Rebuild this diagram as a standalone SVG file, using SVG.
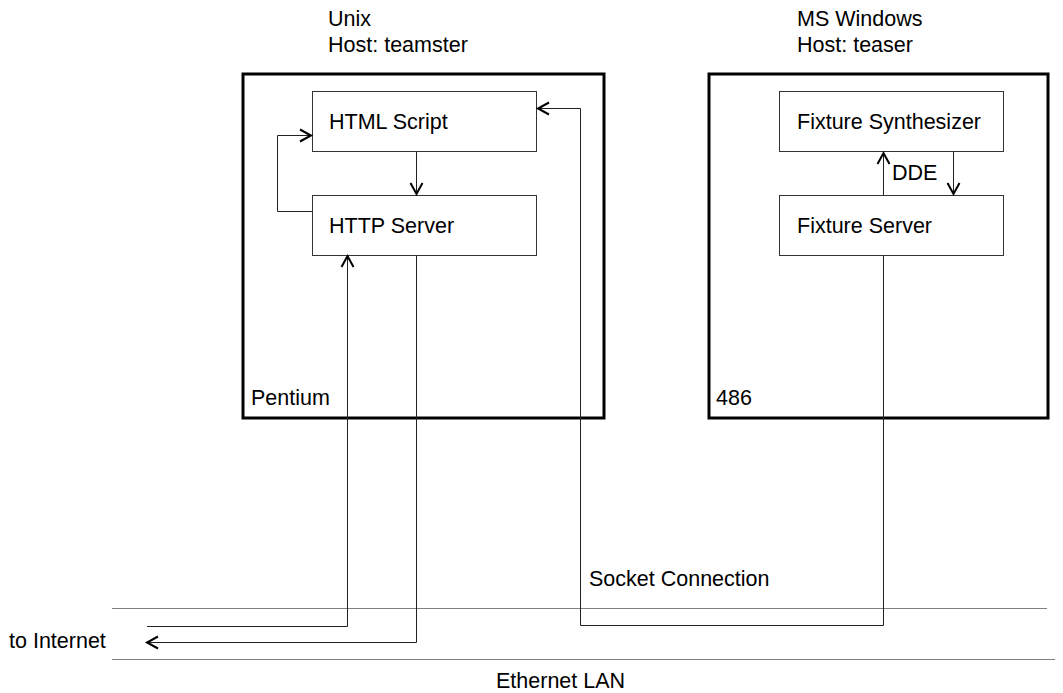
<svg xmlns="http://www.w3.org/2000/svg" width="1063" height="693" viewBox="0 0 1063 693">
  <style>
    text { font-family: "Liberation Sans", Arial, sans-serif; font-size: 21.5px; fill: #000; }
    .host { fill: none; stroke: #000; stroke-width: 3; }
    .proc { fill: #fff; stroke: #333; stroke-width: 1; }
    .wire { fill: none; stroke: #222; stroke-width: 1; }
    .lan { fill: none; stroke: #808080; stroke-width: 1; }
  </style>
  <defs>
    <marker id="arrow" markerWidth="16" markerHeight="16" refX="12" refY="7.5" orient="auto" markerUnits="userSpaceOnUse">
      <path d="M1,1.5 L12,7.5 L1,13.5" fill="none" stroke="#000" stroke-width="2"/>
    </marker>
  </defs>
  <rect width="1063" height="693" fill="#fff"/>

  <!-- Ethernet LAN -->
  <g id="lan">
    <line class="lan" x1="112" y1="608.5" x2="1047" y2="608.5"/>
    <line class="lan" x1="112" y1="659.5" x2="1055" y2="659.5"/>
    <text x="496" y="688">Ethernet LAN</text>
    <text x="9" y="648">to Internet</text>
  </g>

  <!-- Unix host -->
  <g id="host-teamster">
    <text x="328" y="26">Unix</text>
    <text x="328" y="52">Host: teamster</text>
    <rect class="host" x="243" y="74" width="361" height="344"/>
    <text x="251" y="405">Pentium</text>
  </g>
  <g id="html-script">
    <rect class="proc" x="312.5" y="91.5" width="224" height="60"/>
    <text x="329" y="129">HTML Script</text>
  </g>
  <g id="http-server">
    <rect class="proc" x="312.5" y="195.5" width="224" height="60"/>
    <text x="329" y="233">HTTP Server</text>
  </g>

  <!-- MS Windows host -->
  <g id="host-teaser">
    <text x="797" y="26">MS Windows</text>
    <text x="797" y="52">Host: teaser</text>
    <rect class="host" x="709" y="74" width="339" height="344"/>
    <text x="716" y="405">486</text>
  </g>
  <g id="fixture-synthesizer">
    <rect class="proc" x="779.5" y="91.5" width="224" height="60"/>
    <text x="797" y="129">Fixture Synthesizer</text>
  </g>
  <g id="fixture-server">
    <rect class="proc" x="779.5" y="195.5" width="224" height="60"/>
    <text x="797" y="233">Fixture Server</text>
  </g>

  <!-- Connectors -->
  <g id="connectors">
    <!-- HTML Script to HTTP Server -->
    <path class="wire" d="M416.5,152 V194" marker-end="url(#arrow)"/>
    <!-- HTTP Server loops back to HTML Script -->
    <path class="wire" d="M312,211.5 H277.5 V135.5 H311" marker-end="url(#arrow)"/>
    <!-- Internet into HTTP Server -->
    <path class="wire" d="M147,626.5 H347.5 V256" marker-end="url(#arrow)"/>
    <!-- HTTP Server out to Internet -->
    <path class="wire" d="M416.5,256 V642.5 H147" marker-end="url(#arrow)"/>
    <!-- Socket connection between Fixture Server and HTML Script -->
    <path class="wire" d="M883.5,256 V625.5 H580.5 V108.5 H538" marker-end="url(#arrow)"/>
    <text x="589" y="586">Socket Connection</text>
    <!-- DDE link -->
    <path class="wire" d="M883.5,195 V153" marker-end="url(#arrow)"/>
    <path class="wire" d="M953.5,152 V194" marker-end="url(#arrow)"/>
    <text x="892" y="180">DDE</text>
  </g>
</svg>
